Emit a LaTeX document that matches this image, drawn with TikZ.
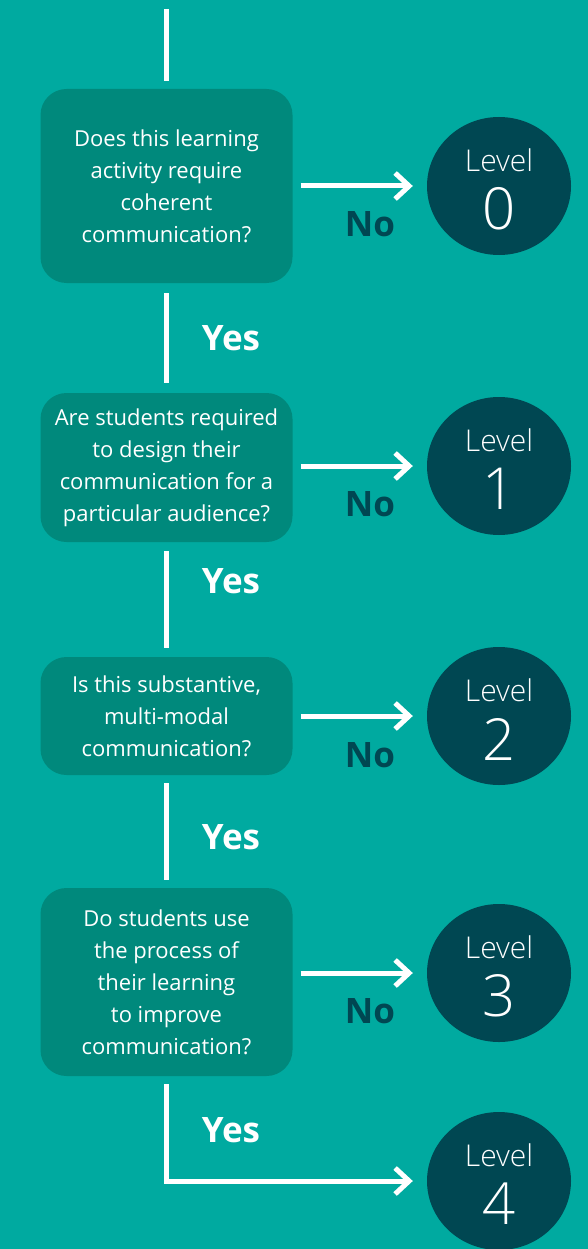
\documentclass[tikz,border=0pt]{standalone}
\usepackage{fontspec}
\setmainfont{Open Sans}
\newfontfamily\thinfont{Open Sans Light}
\usetikzlibrary{arrows.meta,positioning,shapes.geometric}
\definecolor{sea}{RGB}{0,170,160}
\definecolor{reef}{RGB}{0,137,124}
\definecolor{abyss}{RGB}{0,71,82}
\tikzset{
  ques/.style={rectangle,fill=reef,rounded corners=26pt,minimum width=252pt,inner sep=0pt,
    text=white,align=center,font=\fontsize{22}{32}\selectfont},
  lvl/.style={ellipse,fill=abyss,minimum width=144pt,minimum height=138pt,inner sep=0pt},
  lvword/.style={text=white,inner sep=0pt,font=\thinfont\fontsize{30}{30}\selectfont},
  lvnum/.style={text=white,inner sep=0pt,font=\thinfont\fontsize{58}{58}\selectfont},
  wire/.style={draw=white,line width=5pt},
  noarr/.style={wire,-{Straight Barb[length=14pt,width=26pt]},shorten <=8pt,shorten >=14pt},
  yes/.style={text=white,font=\bfseries\fontsize{35}{35}\selectfont},
  no/.style={text=abyss,font=\bfseries\fontsize{35}{35}\selectfont},
}

\begin{document}
\begin{tikzpicture}[x=1pt,y=-1pt]
\fill[sea] (0,0) rectangle (588,1249);
\useasboundingbox (0,0) rectangle (588,1249);

% questions
\node[ques,minimum height=194pt] (q1) at (166.5,186)
  {Does this learning\\activity require\\coherent\\communication?};
\node[ques,minimum height=149pt] (q2) at (166.5,467.5)
  {Are students required\\to design their\\communication for a\\particular audience?};
\node[ques,minimum height=118pt] (q3) at (166.5,716)
  {Is this substantive,\\multi-modal\\communication?};
\node[ques,minimum height=188pt] (q4) at (166.5,982)
  {Do students use\\the process of\\their learning\\to improve\\communication?};

% levels
\node[lvl] (lv0) at (499,186) {};
\node[lvl] (lv1) at (499,466) {};
\node[lvl] (lv2) at (499,716) {};
\node[lvl] (lv3) at (499,973) {};
\node[lvl] (lv4) at (499,1181) {};
\foreach \k in {0,...,4}{
  \node[lvword] (w\k) at ([yshift=26pt]lv\k.center) {Level};
  \node[lvnum] (n\k) at ([yshift=-23pt]lv\k.center) {\k};
}

% yes path
\coordinate (top) at (166.5,9);
\draw[wire,shorten >=8pt] (top) -- (q1);
\draw[wire,shorten <=10pt,shorten >=10pt] (q1) -- (q2);
\draw[wire,shorten <=9pt,shorten >=9pt] (q2) -- (q3);
\draw[wire,shorten <=8pt,shorten >=8pt] (q3) -- (q4);
\draw[wire,-{Straight Barb[length=14pt,width=26pt]},shorten >=14pt]
  ([yshift=-8pt]q4.south) |- (lv4);

% no arrows
\draw[noarr] (q1.east |- lv0) -- (lv0);
\draw[noarr] (q2.east |- lv1) -- (lv1);
\draw[noarr] (q3.east |- lv2) -- (lv2);
\draw[noarr] (q4.east |- lv3) -- (lv3);

% answers
\node[yes] (y1) at (231,338) {Yes};
\node[yes] (y2) at (231,581) {Yes};
\node[yes] (y3) at (231,837) {Yes};
\node[yes] (y4) at (231,1130) {Yes};
\node[no] (x1) at (370,224) {No};
\node[no] (x2) at (370,504) {No};
\node[no] (x3) at (370,755) {No};
\node[no] (x4) at (370,1011) {No};
\end{tikzpicture}
\end{document}
